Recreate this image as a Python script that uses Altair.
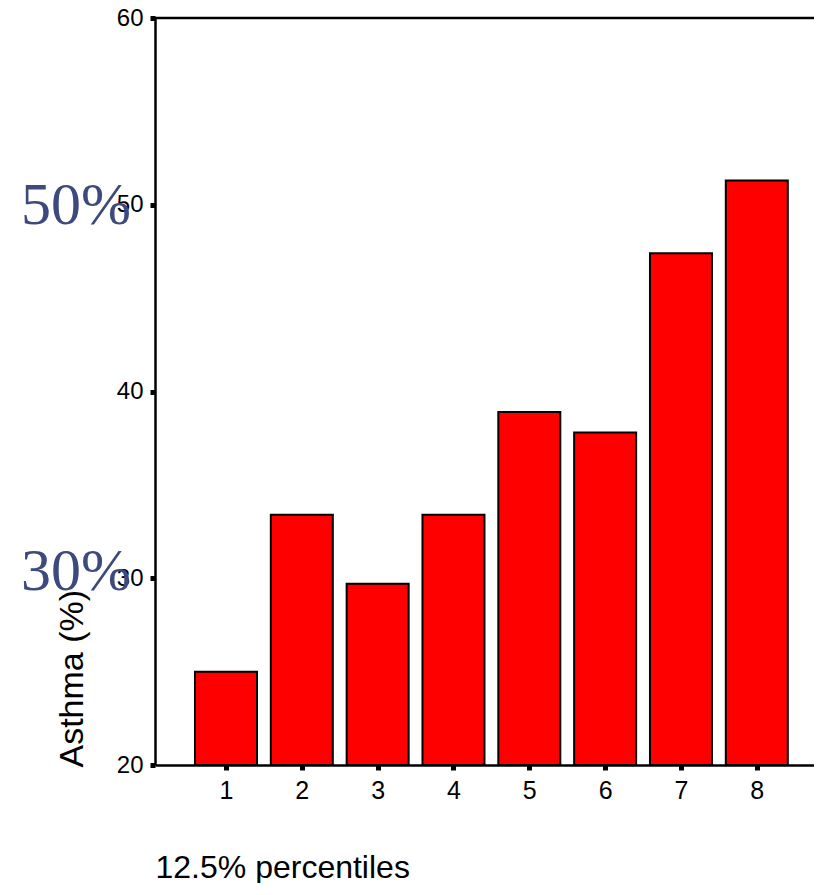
import altair as alt
import pandas as pd

# ---- data ----
categories = [1, 2, 3, 4, 5, 6, 7, 8]
asthma_pct = [25.0, 33.4, 29.7, 33.4, 38.9, 37.8, 47.4, 51.3]
y_ticks = [20, 30, 40, 50, 60]
annot_labels = ["50%", "30%"]
annot_levels = [50, 30]

W = 659
H = 747
PX_PER_UNIT = 77.0
SANS = "Liberation Sans"
SERIF = "Liberation Serif"
ANNOT_COLOR = "#3c4a7d"

df = pd.DataFrame({"pct": categories, "asthma": asthma_pct})
top_df = pd.DataFrame({"top": [y_ticks[-1]]})
ann_hi = pd.DataFrame({"label": [annot_labels[0]], "level": [annot_levels[0]]})
ann_lo = pd.DataFrame({"label": [annot_labels[1]], "level": [annot_levels[1]]})

x_min = 10.0 / PX_PER_UNIT
x_max = x_min + W / PX_PER_UNIT
xscale = alt.Scale(domain=[x_min, x_max], nice=False, zero=False)
yscale = alt.Scale(domain=[y_ticks[0], y_ticks[-1]], nice=False, zero=False)

x_axis = alt.Axis(
    values=categories, format="d", grid=False,
    domainColor="black", domainWidth=2.5,
    tickColor="black", tickSize=5, tickWidth=5,
    labelFont=SANS, labelFontSize=25, labelColor="black", labelPadding=8,
    title="12.5% percentiles", titleFont=SANS, titleFontSize=32,
    titleFontWeight="normal", titleColor="black",
    titleX=0, titleY=112, titleAlign="left", titleBaseline="alphabetic",
    titleAnchor="start",
)
y_axis = alt.Axis(
    values=y_ticks, grid=False,
    domainColor="black", domainWidth=2.5,
    tickColor="black", tickSize=5, tickWidth=5,
    labelFont=SANS, labelFontSize=24, labelColor="black", labelPadding=7,
    title="Asthma (%)", titleFont=SANS, titleFontSize=34,
    titleFontWeight="normal", titleColor="black",
    titleAngle=270, titleX=-73, titleY=749,
    titleAlign="left", titleBaseline="alphabetic",
)

bars = alt.Chart(df).mark_bar(
    width=62, color="#ff0000", stroke="black", strokeWidth=2
).encode(
    x=alt.X("pct:Q", scale=xscale, axis=x_axis),
    y=alt.Y("asthma:Q", scale=yscale, axis=y_axis),
    y2=alt.datum(y_ticks[0]),
)

top_rule = alt.Chart(top_df).mark_rule(color="black", strokeWidth=2.5).encode(
    y=alt.Y("top:Q", scale=yscale),
    x=alt.value(0),
    x2=alt.value(W),
)

text_hi = alt.Chart(ann_hi).mark_text(
    font=SERIF, fontSize=60, color=ANNOT_COLOR, align="left",
    baseline="alphabetic", dy=19.5
).encode(x=alt.value(-134), y=alt.Y("level:Q", scale=yscale), text="label:N")

text_lo = alt.Chart(ann_lo).mark_text(
    font=SERIF, fontSize=60, color=ANNOT_COLOR, align="left",
    baseline="alphabetic", dy=11.8
).encode(x=alt.value(-134), y=alt.Y("level:Q", scale=yscale), text="label:N")

chart = alt.layer(bars, top_rule, text_hi, text_lo).properties(
    width=W, height=H,
    autosize=alt.AutoSizeParams(type="none"),
    padding={"left": 147, "top": 10, "right": 0, "bottom": 118},
    background="white",
).configure_view(stroke=None)

chart.save("out.html", embed_options={"renderer": "svg", "actions": False})
